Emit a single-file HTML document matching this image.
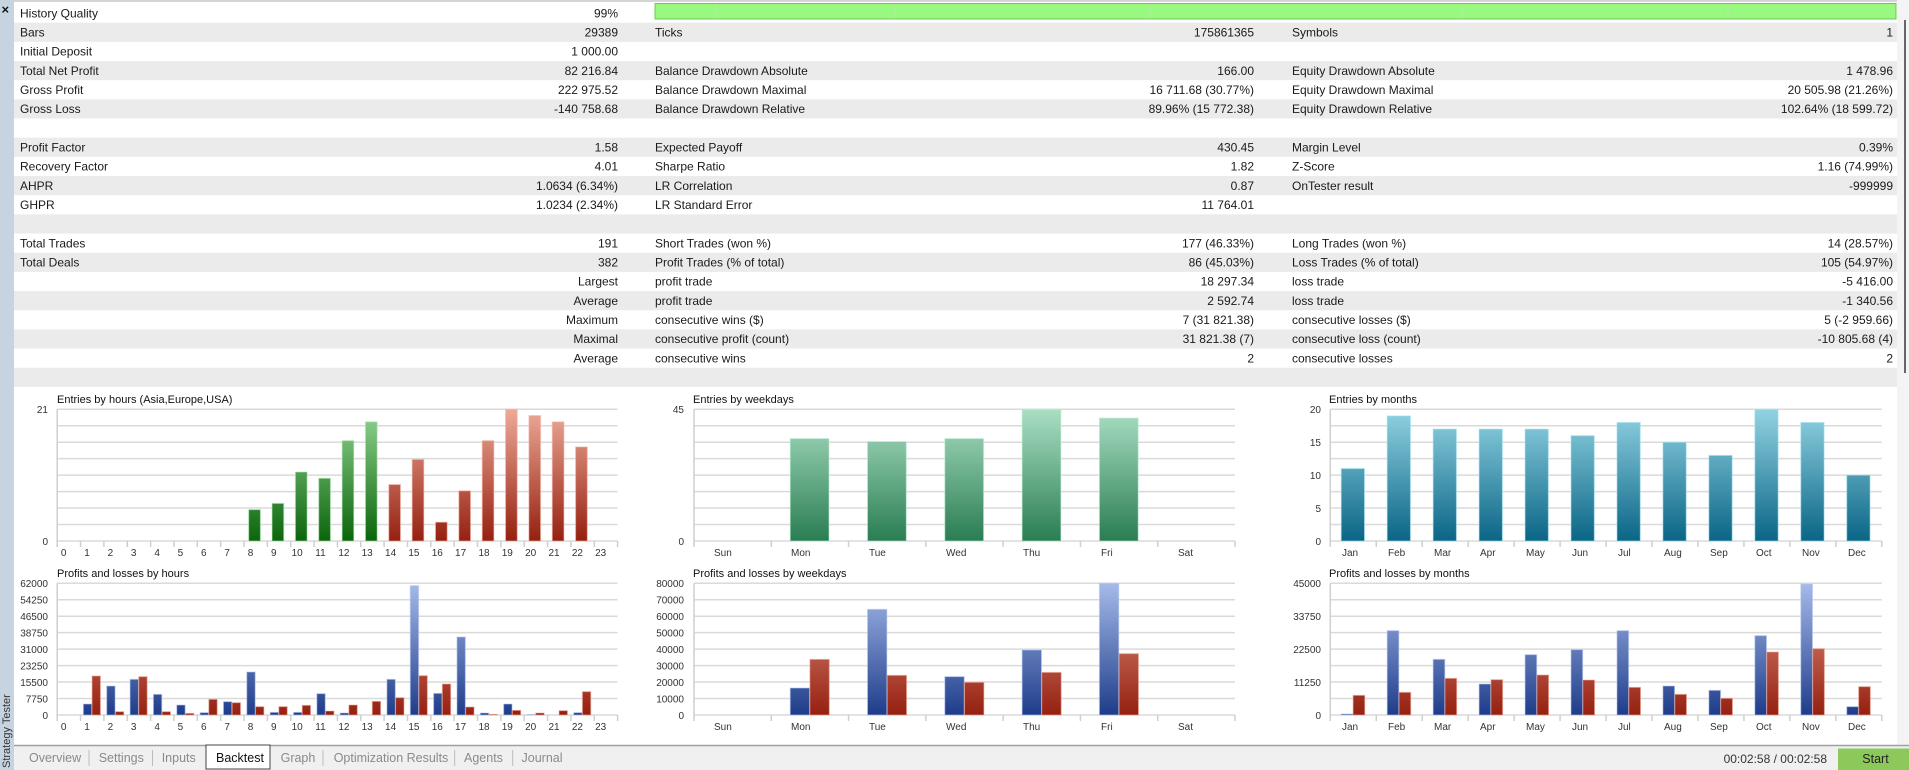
<!DOCTYPE html>
<html><head><meta charset="utf-8">
<style>
html,body{margin:0;padding:0;background:#fff;width:1909px;height:770px;overflow:hidden}
svg{display:block}
.t{font-family:"Liberation Sans",sans-serif;font-size:12px;fill:#1a1a1a}
.a{font-family:"Liberation Sans",sans-serif;font-size:10px;fill:#333}
.h{font-family:"Liberation Sans",sans-serif;font-size:11px;fill:#111}
.tab{font-family:"Liberation Sans",sans-serif;font-size:12.5px;fill:#8a8a8a}
</style></head><body>
<svg id="s" width="1909" height="770" xmlns="http://www.w3.org/2000/svg">
<defs>
<linearGradient id="gG" gradientUnits="userSpaceOnUse" x1="0" y1="409" x2="0" y2="541"><stop offset="0" stop-color="#93d493"/><stop offset="1" stop-color="#0b650b"/></linearGradient>
<linearGradient id="gR" gradientUnits="userSpaceOnUse" x1="0" y1="409" x2="0" y2="541"><stop offset="0" stop-color="#eeaa98"/><stop offset="1" stop-color="#952010"/></linearGradient>
<linearGradient id="gW" gradientUnits="userSpaceOnUse" x1="0" y1="409" x2="0" y2="541"><stop offset="0" stop-color="#aadfc4"/><stop offset="1" stop-color="#2a7d52"/></linearGradient>
<linearGradient id="gM" gradientUnits="userSpaceOnUse" x1="0" y1="409" x2="0" y2="541"><stop offset="0" stop-color="#92d3e3"/><stop offset="1" stop-color="#0a6586"/></linearGradient>
<linearGradient id="gB" gradientUnits="userSpaceOnUse" x1="0" y1="583" x2="0" y2="715"><stop offset="0" stop-color="#a6bbea"/><stop offset="1" stop-color="#1e3c8a"/></linearGradient>
<linearGradient id="gL" gradientUnits="userSpaceOnUse" x1="0" y1="583" x2="0" y2="715"><stop offset="0" stop-color="#e49a88"/><stop offset="1" stop-color="#952010"/></linearGradient>
</defs>
<rect x="0" y="0" width="1909" height="770" fill="#fff"/>
<rect x="0" y="0" width="1909" height="2" fill="#d4d4d4"/>
<g id="bands" fill="#ebebeb"></g>
<!-- history quality bar -->
<rect x="655" y="3.5" width="1241" height="15.5" fill="#98f880" stroke="#6cc855" stroke-width="1"/>
<g stroke="#b8e8a8" stroke-width="1"><line x1="716" y1="4" x2="716" y2="18.5"/><line x1="895" y1="4" x2="895" y2="18.5"/><line x1="1150" y1="4" x2="1150" y2="18.5"/><line x1="1462" y1="4" x2="1462" y2="18.5"/><line x1="1728" y1="4" x2="1728" y2="18.5"/></g>
<!-- table text -->
<g class="t">
<text x="20" y="17.3">History Quality</text><text x="618" y="17.3" text-anchor="end">99%</text>
<text x="20" y="36.5">Bars</text><text x="618" y="36.5" text-anchor="end">29389</text><text x="655" y="36.5">Ticks</text><text x="1254" y="36.5" text-anchor="end">175861365</text><text x="1292" y="36.5">Symbols</text><text x="1893" y="36.5" text-anchor="end">1</text>
<text x="20" y="55.6">Initial Deposit</text><text x="618" y="55.6" text-anchor="end">1 000.00</text>
<text x="20" y="74.8">Total Net Profit</text><text x="618" y="74.8" text-anchor="end">82 216.84</text><text x="655" y="74.8">Balance Drawdown Absolute</text><text x="1254" y="74.8" text-anchor="end">166.00</text><text x="1292" y="74.8">Equity Drawdown Absolute</text><text x="1893" y="74.8" text-anchor="end">1 478.96</text>
<text x="20" y="94">Gross Profit</text><text x="618" y="94" text-anchor="end">222 975.52</text><text x="655" y="94">Balance Drawdown Maximal</text><text x="1254" y="94" text-anchor="end">16 711.68 (30.77%)</text><text x="1292" y="94">Equity Drawdown Maximal</text><text x="1893" y="94" text-anchor="end">20 505.98 (21.26%)</text>
<text x="20" y="113.2">Gross Loss</text><text x="618" y="113.2" text-anchor="end">-140 758.68</text><text x="655" y="113.2">Balance Drawdown Relative</text><text x="1254" y="113.2" text-anchor="end">89.96% (15 772.38)</text><text x="1292" y="113.2">Equity Drawdown Relative</text><text x="1893" y="113.2" text-anchor="end">102.64% (18 599.72)</text>
<text x="20" y="151.5">Profit Factor</text><text x="618" y="151.5" text-anchor="end">1.58</text><text x="655" y="151.5">Expected Payoff</text><text x="1254" y="151.5" text-anchor="end">430.45</text><text x="1292" y="151.5">Margin Level</text><text x="1893" y="151.5" text-anchor="end">0.39%</text>
<text x="20" y="170.7">Recovery Factor</text><text x="618" y="170.7" text-anchor="end">4.01</text><text x="655" y="170.7">Sharpe Ratio</text><text x="1254" y="170.7" text-anchor="end">1.82</text><text x="1292" y="170.7">Z-Score</text><text x="1893" y="170.7" text-anchor="end">1.16 (74.99%)</text>
<text x="20" y="189.8">AHPR</text><text x="618" y="189.8" text-anchor="end">1.0634 (6.34%)</text><text x="655" y="189.8">LR Correlation</text><text x="1254" y="189.8" text-anchor="end">0.87</text><text x="1292" y="189.8">OnTester result</text><text x="1893" y="189.8" text-anchor="end">-999999</text>
<text x="20" y="209">GHPR</text><text x="618" y="209" text-anchor="end">1.0234 (2.34%)</text><text x="655" y="209">LR Standard Error</text><text x="1254" y="209" text-anchor="end">11 764.01</text>
<text x="20" y="247.3">Total Trades</text><text x="618" y="247.3" text-anchor="end">191</text><text x="655" y="247.3">Short Trades (won %)</text><text x="1254" y="247.3" text-anchor="end">177 (46.33%)</text><text x="1292" y="247.3">Long Trades (won %)</text><text x="1893" y="247.3" text-anchor="end">14 (28.57%)</text>
<text x="20" y="266.5">Total Deals</text><text x="618" y="266.5" text-anchor="end">382</text><text x="655" y="266.5">Profit Trades (% of total)</text><text x="1254" y="266.5" text-anchor="end">86 (45.03%)</text><text x="1292" y="266.5">Loss Trades (% of total)</text><text x="1893" y="266.5" text-anchor="end">105 (54.97%)</text>
<text x="618" y="285.7" text-anchor="end">Largest</text><text x="655" y="285.7">profit trade</text><text x="1254" y="285.7" text-anchor="end">18 297.34</text><text x="1292" y="285.7">loss trade</text><text x="1893" y="285.7" text-anchor="end">-5 416.00</text>
<text x="618" y="304.9" text-anchor="end">Average</text><text x="655" y="304.9">profit trade</text><text x="1254" y="304.9" text-anchor="end">2 592.74</text><text x="1292" y="304.9">loss trade</text><text x="1893" y="304.9" text-anchor="end">-1 340.56</text>
<text x="618" y="324" text-anchor="end">Maximum</text><text x="655" y="324">consecutive wins ($)</text><text x="1254" y="324" text-anchor="end">7 (31 821.38)</text><text x="1292" y="324">consecutive losses ($)</text><text x="1893" y="324" text-anchor="end">5 (-2 959.66)</text>
<text x="618" y="343.2" text-anchor="end">Maximal</text><text x="655" y="343.2">consecutive profit (count)</text><text x="1254" y="343.2" text-anchor="end">31 821.38 (7)</text><text x="1292" y="343.2">consecutive loss (count)</text><text x="1893" y="343.2" text-anchor="end">-10 805.68 (4)</text>
<text x="618" y="362.4" text-anchor="end">Average</text><text x="655" y="362.4">consecutive wins</text><text x="1254" y="362.4" text-anchor="end">2</text><text x="1292" y="362.4">consecutive losses</text><text x="1893" y="362.4" text-anchor="end">2</text>
</g>
<!-- scrollbar + right strip -->
<rect x="1897" y="0" width="12" height="746" fill="#f4f4f4"/>
<line x1="1905" y1="20" x2="1905" y2="373" stroke="#666" stroke-width="2"/>
<!-- left strip -->
<rect x="0" y="0" width="14" height="770" fill="#c6d4e2"/>
<text x="1.5" y="14" style="font-family:'Liberation Sans',sans-serif;font-size:13px;font-weight:bold;fill:#111">×</text>
<text transform="translate(10,768) rotate(-90)" style="font-family:'Liberation Sans',sans-serif;font-size:11px;fill:#333">Strategy Tester</text>

<!-- grids -->
<g id="grids" stroke="#dadada" stroke-width="1.5"></g>
<g id="bars"></g>

<!-- titles -->
<g class="h">
<text x="57" y="403">Entries by hours (Asia,Europe,USA)</text>
<text x="57" y="577">Profits and losses by hours</text>
<text x="693" y="403">Entries by weekdays</text>
<text x="693" y="577">Profits and losses by weekdays</text>
<text x="1329" y="403">Entries by months</text>
<text x="1329" y="577">Profits and losses by months</text>
</g>
<g class="a" text-anchor="end">
<text x="48" y="413">21</text><text x="48" y="545">0</text>
<text x="48" y="587">62000</text><text x="48" y="603.5">54250</text><text x="48" y="620">46500</text><text x="48" y="636.5">38750</text><text x="48" y="653">31000</text><text x="48" y="669.5">23250</text><text x="48" y="686">15500</text><text x="48" y="702.5">7750</text><text x="48" y="719">0</text>
<text x="684" y="413">45</text><text x="684" y="545">0</text>
<text x="684" y="587">80000</text><text x="684" y="603.5">70000</text><text x="684" y="620">60000</text><text x="684" y="636.5">50000</text><text x="684" y="653">40000</text><text x="684" y="669.5">30000</text><text x="684" y="686">20000</text><text x="684" y="702.5">10000</text><text x="684" y="719">0</text>
<text x="1321" y="413">20</text><text x="1321" y="446">15</text><text x="1321" y="479">10</text><text x="1321" y="512">5</text><text x="1321" y="545">0</text>
<text x="1321" y="587">45000</text><text x="1321" y="620">33750</text><text x="1321" y="653">22500</text><text x="1321" y="686">11250</text><text x="1321" y="719">0</text>
</g>
<g class="a" text-anchor="middle">
<text x="63.7" y="556">0</text><text x="87" y="556">1</text><text x="110.4" y="556">2</text><text x="133.7" y="556">3</text><text x="157.1" y="556">4</text><text x="180.4" y="556">5</text><text x="203.8" y="556">6</text><text x="227.1" y="556">7</text><text x="250.5" y="556">8</text><text x="273.8" y="556">9</text><text x="297.2" y="556">10</text><text x="320.5" y="556">11</text><text x="343.9" y="556">12</text><text x="367.2" y="556">13</text><text x="390.6" y="556">14</text><text x="413.9" y="556">15</text><text x="437.3" y="556">16</text><text x="460.6" y="556">17</text><text x="484" y="556">18</text><text x="507.3" y="556">19</text><text x="530.7" y="556">20</text><text x="554" y="556">21</text><text x="577.4" y="556">22</text><text x="600.7" y="556">23</text>
<text x="63.7" y="730">0</text><text x="87" y="730">1</text><text x="110.4" y="730">2</text><text x="133.7" y="730">3</text><text x="157.1" y="730">4</text><text x="180.4" y="730">5</text><text x="203.8" y="730">6</text><text x="227.1" y="730">7</text><text x="250.5" y="730">8</text><text x="273.8" y="730">9</text><text x="297.2" y="730">10</text><text x="320.5" y="730">11</text><text x="343.9" y="730">12</text><text x="367.2" y="730">13</text><text x="390.6" y="730">14</text><text x="413.9" y="730">15</text><text x="437.3" y="730">16</text><text x="460.6" y="730">17</text><text x="484" y="730">18</text><text x="507.3" y="730">19</text><text x="530.7" y="730">20</text><text x="554" y="730">21</text><text x="577.4" y="730">22</text><text x="600.7" y="730">23</text>
</g>
<g class="a">
<text x="714" y="556">Sun</text><text x="791" y="556">Mon</text><text x="869" y="556">Tue</text><text x="946" y="556">Wed</text><text x="1023" y="556">Thu</text><text x="1101" y="556">Fri</text><text x="1178" y="556">Sat</text>
<text x="714" y="730">Sun</text><text x="791" y="730">Mon</text><text x="869" y="730">Tue</text><text x="946" y="730">Wed</text><text x="1023" y="730">Thu</text><text x="1101" y="730">Fri</text><text x="1178" y="730">Sat</text>
<text x="1342" y="556">Jan</text><text x="1388" y="556">Feb</text><text x="1434" y="556">Mar</text><text x="1480" y="556">Apr</text><text x="1526" y="556">May</text><text x="1572" y="556">Jun</text><text x="1618" y="556">Jul</text><text x="1664" y="556">Aug</text><text x="1710" y="556">Sep</text><text x="1756" y="556">Oct</text><text x="1802" y="556">Nov</text><text x="1848" y="556">Dec</text>
<text x="1342" y="730">Jan</text><text x="1388" y="730">Feb</text><text x="1434" y="730">Mar</text><text x="1480" y="730">Apr</text><text x="1526" y="730">May</text><text x="1572" y="730">Jun</text><text x="1618" y="730">Jul</text><text x="1664" y="730">Aug</text><text x="1710" y="730">Sep</text><text x="1756" y="730">Oct</text><text x="1802" y="730">Nov</text><text x="1848" y="730">Dec</text>
</g>

<!-- bottom bar -->
<rect x="14" y="745" width="1895" height="25" fill="#f0f0f0"/>
<line x1="14" y1="745.5" x2="1909" y2="745.5" stroke="#a0a0a0" stroke-width="1.5"/>
<rect x="206" y="745" width="64" height="24" fill="#fff" stroke="#444" stroke-width="1"/>
<g stroke="#bbb" stroke-width="1"><line x1="89" y1="750" x2="89" y2="766"/><line x1="152.5" y1="750" x2="152.5" y2="766"/><line x1="323" y1="750" x2="323" y2="766"/><line x1="454.7" y1="750" x2="454.7" y2="766"/><line x1="512.7" y1="750" x2="512.7" y2="766"/></g>
<g class="tab">
<text x="29" y="762">Overview</text><text x="98.7" y="762">Settings</text><text x="161.7" y="762">Inputs</text><text x="216" y="762" style="fill:#111">Backtest</text><text x="280.6" y="762">Graph</text><text x="333.7" y="762">Optimization Results</text><text x="464" y="762">Agents</text><text x="521.5" y="762">Journal</text>
</g>
<text x="1827" y="763" text-anchor="end" style="font-family:'Liberation Sans',sans-serif;font-size:12px;fill:#333">00:02:58 / 00:02:58</text>
<rect x="1838" y="748.5" width="71" height="21.5" fill="#8cc85a"/>
<text x="1875.5" y="763" text-anchor="middle" style="font-family:'Liberation Sans',sans-serif;font-size:12.5px;fill:#222">Start</text>
</svg>
<script>
(function(){
var NS="http://www.w3.org/2000/svg";
function el(p,n,a){var e=document.createElementNS(NS,n);for(var k in a)e.setAttribute(k,a[k]);p.appendChild(e);return e;}
var bands=document.getElementById('bands');
for(var i=1;i<20;i+=2){el(bands,'rect',{x:14,y:3.5+19.17*i,width:1883,height:19.17});}
var g=document.getElementById('grids'),b=document.getElementById('bars');
function grid(x0,x1,top,slots,n){
  for(var k=0;k<=8;k++){var y=top+k*16.46;el(g,'line',{x1:x0,y1:y,x2:x1,y2:y});}
  el(g,'line',{x1:x0,y1:top,x2:x0,y2:top+131.7+6,stroke:'#cfcfcf'});
  var w=(x1-x0)/n;
  for(var i=1;i<=n;i++){el(g,'line',{x1:x0+w*i,y1:top+131.7,x2:x0+w*i,y2:top+131.7+6,stroke:'#cfcfcf'});}
}
grid(57.2,617.6,409.3,0,24);grid(57.2,617.6,583.3,0,24);
grid(694,1235,409.3,0,7);grid(694,1235,583.3,0,7);
grid(1330.3,1881.8,409.3,0,12);grid(1330.3,1881.8,583.3,0,12);
function bar(x,w,h,base,fill,stroke){if(h<=0)return;el(b,'rect',{x:x,y:base-h,width:w,height:h,fill:fill,stroke:stroke,'stroke-width':1,'stroke-opacity':0.6});}
// hours entries
var he={8:5,9:6,10:11,11:10,12:16,13:19,14:9,15:13,16:3,17:8,18:16,19:21,20:20,21:19,22:15};
for(var h in he){var x=57.2+23.35*h+4.7;bar(x,11.7,he[h]/21*131.7,541,h<14?'url(#gG)':'url(#gR)',h<14?'#b0e8b0':'#f4b8a8');}
var hp=[[0,0],[5180,18365],[13655,1570],[16795,18050],[9730,1570],[4710,785],[1100,7380],[6280,5800],[20250,3925],[1250,3925],[1250,4550],[10045,1880],[940,4710],[0,6435],[16795,8160],[60900,18520],[10200,14600],[36730,3770],[940,300],[5180,2200],[150,940],[0,2040],[1100,11000],[0,0]];
for(var i=0;i<24;i++){var sl=57.2+23.35*i;bar(sl+2.8,8.4,hp[i][0]/62000*131.7,715,'url(#gB)','#b8c8f0');bar(sl+11.5,8.4,hp[i][1]/62000*131.7,715,'url(#gL)','#f0a898');}
var we=[0,35,34,35,45,42,0];
for(var i=0;i<7;i++){var sl=694+77.3*i;bar(sl+18.9,38.8,we[i]/45*131.7,541,'url(#gW)','#bdeed4');}
var wp=[[0,0],[16400,33800],[64200,24100],[23300,19850],[39500,25900],[80000,37260],[0,0]];
for(var i=0;i<7;i++){var sl=694+77.3*i;bar(sl+18.9,19.4,wp[i][0]/80000*131.7,715,'url(#gB)','#b8c8f0');bar(sl+38.6,19.4,wp[i][1]/80000*131.7,715,'url(#gL)','#f0a898');}
var me=[11,19,17,17,17,16,18,15,13,20,18,10];
for(var i=0;i<12;i++){var sl=1330.3+45.96*i;bar(sl+10.9,23.3,me[i]/20*131.7,541,'url(#gM)','#a8e4f0');}
var mp=[[340,6720],[28820,7750],[19025,12530],[10600,12075],[20620,13670],[22330,11960],[28820,9455],[9910,7060],[8430,5700],[27110,21530],[44770,22670],[2850,9680]];
for(var i=0;i<12;i++){var sl=1330.3+45.96*i;bar(sl+10.9,11.7,mp[i][0]/45000*131.7,715,'url(#gB)','#b8c8f0');bar(sl+22.8,11.7,mp[i][1]/45000*131.7,715,'url(#gL)','#f0a898');}
})();
</script>
</body></html>
